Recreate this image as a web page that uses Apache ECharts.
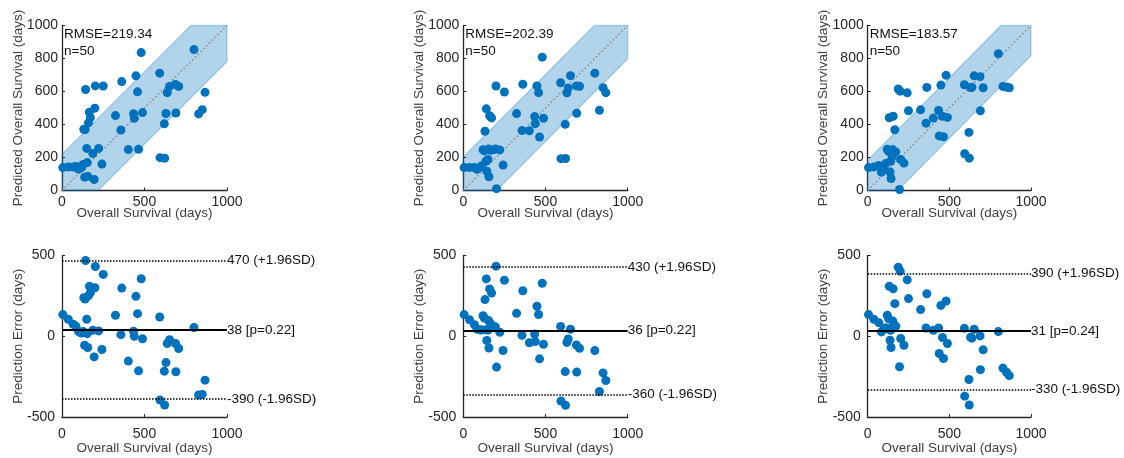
<!DOCTYPE html>
<html>
<head>
<meta charset="utf-8">
<script src="https://cdn.jsdelivr.net/npm/echarts@6/dist/echarts.min.js"></script>
<style>
  html, body { margin: 0; padding: 0; background: #ffffff; }
  #chart { width: 1124px; height: 458px; }
</style>
</head>
<body>
<div id="chart"></div>
<script>
// Observed overall survival (days) for the 50 patients, shared by all three models
const survivalDays = [
  5, 38, 68, 84, 100, 110, 120, 128, 132, 137, 140, 143, 150, 153, 156, 160, 166, 172, 187, 195, 199, 202, 222, 242, 250,
  324, 357, 362, 402, 434, 438, 448, 458, 464, 480, 488,
  592, 594, 620, 622, 630, 638, 652, 688, 690, 707, 800, 828, 850, 867
];

// Predicted overall survival (days), one array per model
const predictedA = [
  139, 143, 142, 146, 130, 135, 140, 158, 371, 81, 370, 612, 255, 169, 86, 410, 475, 442, 224, 67, 499, 634, 255, 160, 633,
  454, 367, 660, 248, 465, 438, 695, 598, 250, 836, 472,
  711, 199, 404, 196, 467, 593, 631, 643, 470, 631, 854, 464, 490, 595
];
const predictedB = [
  139, 140, 139, 128, 140, 148, 247, 241, 359, 177, 495, 117, 188, 251, 83, 453, 244, 440, 248, 252, 633, 11, 246, 154, 597,
  466, 363, 644, 362, 448, 405, 634, 593, 324, 808, 438,
  653, 193, 401, 194, 592, 621, 696, 634, 468, 632, 711, 486, 623, 593
];
const predictedC = [
  139, 143, 152, 111, 145, 163, 250, 237, 441, 112, 177, 73, 205, 248, 450, 234, 368, 234, 615, 6, 602, 188, 166, 592, 483,
  489, 408, 625, 439, 485, 331, 639, 450, 326, 698, 443,
  641, 223, 352, 196, 624, 626, 695, 690, 483, 623, 829, 631, 627, 623
];

// Prediction error (predicted - observed, days), one array per model
const errorA = [
  134, 105, 74, 62, 30, 25, 20, 30, 239, -56, 230, 469, 105, 16, -70, 250, 309, 270, 37, -128, 300, 432, 33, -82, 383,
  130, 10, 298, -154, 31, 0, 247, 140, -214, 356, -16,
  119, -395, -216, -426, -163, -45, -21, -45, -220, -76, 54, -364, -360, -272
];
const errorB = [
  134, 102, 71, 44, 40, 38, 127, 113, 227, 40, 355, -26, 38, 98, -73, 293, 78, 268, 61, 57, 434, -191, 24, -88, 347,
  142, 6, 282, -40, 14, -33, 186, 135, -140, 328, -50,
  61, -401, -219, -428, -38, -17, 44, -54, -222, -75, -89, -342, -227, -274
];
const errorC = [
  134, 105, 84, 27, 45, 53, 130, 109, 309, -25, 37, -70, 55, 95, 294, 74, 202, 62, 428, -189, 403, -14, -56, 350, 233,
  165, 51, 263, 37, 51, -107, 191, -8, -138, 218, -45,
  49, -371, -268, -426, -6, -12, 43, 2, -207, -84, 29, -197, -223, -244
];

// Summary statistics printed on each panel
const rmseValues = [219.34, 202.39, 183.57];
const sampleSize = 50;
const meanError = [38, 36, 31];
const pValues = ['0.22', '0.22', '0.24'];
const upperLimit = [470, 430, 390];
const lowerLimit = [-390, -360, -330];

// Axis ranges
const survivalRange = [0, 1000];
const errorRange = [-500, 500];

const predictedSets = [predictedA, predictedB, predictedC];
const errorSets = [errorA, errorB, errorC];

// Layout of the 2 x 3 panel grid
const colLeft = [62, 463.3, 867.7];
const colWidth = [165, 164.4, 163.3];
const topRowTop = 25.5, topRowHeight = 165;
const bottomRowTop = 255.5, bottomRowHeight = 161.5;

const FONT = '"Liberation Sans", Arial, Helvetica, sans-serif';
const INK = '#262626';
const BLUE = '#0072BD';
const FS = 13.5;
const TICK_FS = 14;

const grids = [], xAxes = [], yAxes = [], series = [], graphics = [];

function axisCommon() {
  return {
    axisLine: { show: true, onZero: false, lineStyle: { color: INK, width: 1.3 } },
    axisTick: { show: true, inside: true, length: 3, lineStyle: { color: INK, width: 1 } },
    splitLine: { show: false },
    axisLabel: {
      color: INK, fontFamily: FONT, fontSize: TICK_FS, showMinLabel: true, showMaxLabel: true,
      formatter: v => String(v)
    },
    nameTextStyle: { color: '#404040', fontFamily: FONT, fontSize: FS },
    nameLocation: 'middle',
    nameMoveOverlap: false
  };
}

for (let i = 0; i < 3; i++) {
  grids.push({ left: colLeft[i], top: topRowTop, width: colWidth[i], height: topRowHeight });
}
for (let i = 0; i < 3; i++) {
  grids.push({ left: colLeft[i], top: bottomRowTop, width: colWidth[i], height: bottomRowHeight });
}

// top row: predicted vs observed survival
for (let i = 0; i < 3; i++) {
  const xTop = axisCommon();
  Object.assign(xTop, { type: 'value', gridIndex: i, min: survivalRange[0], max: survivalRange[1], interval: 500,
    name: 'Overall Survival (days)', nameGap: 16 });
  xTop.axisLabel.margin = 5;
  xAxes.push(xTop);

  const yTop = axisCommon();
  Object.assign(yTop, { type: 'value', gridIndex: i, min: survivalRange[0], max: survivalRange[1], interval: 200,
    name: 'Predicted Overall Survival (days)', nameGap: 37 });
  yTop.axisLabel.margin = 4;
  yAxes.push(yTop);
}
// bottom row: prediction error vs observed survival
for (let i = 0; i < 3; i++) {
  const xBot = axisCommon();
  Object.assign(xBot, { type: 'value', gridIndex: 3 + i, min: survivalRange[0], max: survivalRange[1], interval: 500,
    name: 'Overall Survival (days)', nameGap: 24 });
  xBot.axisLabel.margin = 10;
  xAxes.push(xBot);

  const yBot = axisCommon();
  Object.assign(yBot, { type: 'value', gridIndex: 3 + i, min: errorRange[0], max: errorRange[1], interval: 500,
    name: 'Prediction Error (days)', nameGap: 37 });
  yBot.axisLabel.margin = 7;
  yAxes.push(yBot);
}

for (let i = 0; i < 3; i++) {
  const rmse = rmseValues[i];
  const lo = survivalRange[0], hi = survivalRange[1];

  // shaded +/- RMSE band around the identity line
  series.push({
    type: 'custom',
    xAxisIndex: i, yAxisIndex: i,
    z: 1, silent: true,
    data: [[lo, lo]],
    renderItem: function (params, api) {
      const verts = [
        [lo, lo], [lo, lo + rmse], [hi - rmse, hi], [hi, hi], [hi, hi - rmse], [lo + rmse, lo]
      ].map(p => api.coord(p));
      return {
        type: 'polygon',
        shape: { points: verts },
        style: { fill: 'rgba(0,114,189,0.30)', stroke: 'rgba(0,114,189,0.28)', lineWidth: 1.3 }
      };
    }
  });

  // identity line
  series.push({
    type: 'line',
    xAxisIndex: i, yAxisIndex: i,
    z: 2, silent: true, symbol: 'none',
    data: [[lo, lo], [hi, hi]],
    lineStyle: { color: '#8a8a8a', width: 1.5, type: [1.5, 2.5] }
  });

  // patients
  series.push({
    type: 'scatter',
    xAxisIndex: i, yAxisIndex: i,
    z: 3,
    symbolSize: 9,
    itemStyle: { color: BLUE, opacity: 1 },
    data: survivalDays.map((d, k) => [d, predictedSets[i][k]])
  });

  // mean error and limits of agreement
  const dotted = { color: '#000', width: 1.6, type: [1.5, 1.5] };
  const solid = { color: '#000', width: 1.8, type: 'solid' };
  series.push({
    type: 'line',
    xAxisIndex: 3 + i, yAxisIndex: 3 + i,
    z: 2, silent: true,
    data: [],
    markLine: {
      symbol: 'none', silent: true, animation: false,
      label: { show: true, position: 'end', distance: 0, color: '#111', fontFamily: FONT, fontSize: FS },
      data: [
        { yAxis: upperLimit[i], lineStyle: dotted, label: { formatter: upperLimit[i] + ' (+1.96SD)' } },
        { yAxis: meanError[i], lineStyle: solid, label: { formatter: meanError[i] + ' [p=' + pValues[i] + ']' } },
        { yAxis: lowerLimit[i], lineStyle: dotted, label: { formatter: lowerLimit[i] + ' (-1.96SD)' } }
      ]
    }
  });

  series.push({
    type: 'scatter',
    xAxisIndex: 3 + i, yAxisIndex: 3 + i,
    z: 3,
    symbolSize: 9,
    itemStyle: { color: BLUE, opacity: 1 },
    data: survivalDays.map((d, k) => [d, errorSets[i][k]])
  });

  // RMSE / sample size annotation
  graphics.push({
    type: 'text',
    left: colLeft[i] + 2,
    top: topRowTop + 0.5,
    z: 10,
    style: {
      text: 'RMSE=' + rmse.toFixed(2) + '\nn=' + sampleSize,
      fill: '#111', font: FS + 'px ' + FONT, lineHeight: 17
    }
  });
}

const chart = echarts.init(document.getElementById('chart'), null, { renderer: 'canvas' });
chart.setOption({
  animation: false,
  backgroundColor: '#ffffff',
  grid: grids,
  xAxis: xAxes,
  yAxis: yAxes,
  series: series,
  graphic: graphics
});
</script>
</body>
</html>
